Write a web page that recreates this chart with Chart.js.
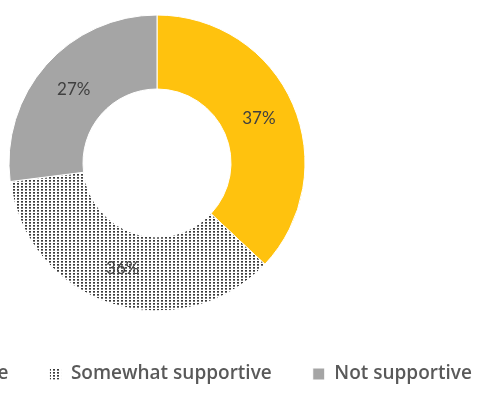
<!DOCTYPE html>
<html>
<head>
<meta charset="utf-8">
<script src="https://cdn.jsdelivr.net/npm/chart.js@4.4.1/dist/chart.umd.min.js"></script>
<style>
  html, body { margin: 0; padding: 0; background: #fff; overflow: hidden; width: 478px; height: 394px; position: relative; }
  #wrap { position: absolute; left: -243px; top: 0; width: 800px; height: 394px; }
</style>
</head>
<body>
<div id="wrap"><canvas id="chart"></canvas></div>
<script>
// Support levels and their shares (percent)
const categories = ['Very supportive', 'Somewhat supportive', 'Not supportive'];
const shares = [37, 36, 27];

// Dotted fill used for the middle segment
function dotPattern() {
  const tile = document.createElement('canvas');
  tile.width = 4;
  tile.height = 3;
  const t = tile.getContext('2d');
  t.fillStyle = '#ffffff';
  t.fillRect(0, 0, 4, 3);
  t.fillStyle = '#3a3a3a';
  t.fillRect(0, 0, 2, 1);
  t.fillStyle = '#7a7a7a';
  t.fillRect(0, 1, 2, 1);
  return t.createPattern(tile, 'repeat');
}

const colors = ['#FFC20E', dotPattern(), '#A5A5A5'];

// Percent labels centred in each ring segment
const sliceLabels = {
  id: 'sliceLabels',
  afterDatasetsDraw(chart) {
    const ctx = chart.ctx;
    const meta = chart.getDatasetMeta(0);
    ctx.save();
    ctx.font = '17px Lato, sans-serif';
    ctx.fillStyle = '#404040';
    ctx.textAlign = 'center';
    ctx.textBaseline = 'middle';
    meta.data.forEach((arc, i) => {
      const p = arc.tooltipPosition();
      ctx.fillText(shares[i] + '%', p.x, p.y);
    });
    ctx.restore();
  }
};

new Chart(document.getElementById('chart'), {
  type: 'doughnut',
  data: {
    labels: categories,
    datasets: [{
      data: shares,
      backgroundColor: colors,
      borderColor: '#ffffff',
      borderWidth: 1
    }]
  },
  options: {
    responsive: true,
    maintainAspectRatio: false,
    animation: false,
    radius: 148,
    cutout: '50%',
    layout: { padding: { top: 2.5, bottom: 0.5 } },
    plugins: {
      tooltip: { enabled: false },
      legend: {
        position: 'bottom',
        labels: {
          boxWidth: 12,
          boxHeight: 12,
          padding: 41,
          color: '#595959',
          font: { family: "'Open Sans'", size: 19, weight: '600' }
        }
      }
    }
  },
  plugins: [sliceLabels]
});
</script>
</body>
</html>
